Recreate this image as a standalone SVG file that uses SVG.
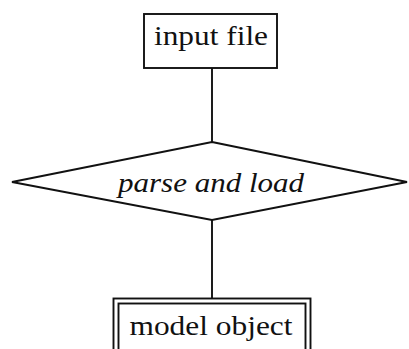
<svg xmlns="http://www.w3.org/2000/svg" width="409" height="349" viewBox="0 0 409 349">
  <style>
    .shape { fill: #ffffff; stroke: #111111; stroke-width: 1.9; }
    .edge { stroke: #111111; stroke-width: 1.9; fill: none; }
    .label { font-family: "Liberation Serif", "Times New Roman", serif; font-size: 28px; fill: #111111; text-anchor: middle; }
    .italic { font-style: italic; }
  </style>
  <rect width="409" height="349" fill="#ffffff"/>
  <g id="connectors">
    <line class="edge" x1="212" y1="68" x2="212" y2="142"/>
    <line class="edge" x1="212" y1="220" x2="212" y2="298"/>
  </g>
  <g id="input-file">
    <rect class="shape" x="144" y="14" width="133" height="54"/>
    <text class="label" x="211" y="45" textLength="114" lengthAdjust="spacingAndGlyphs">input file</text>
  </g>
  <g id="parse-and-load">
    <polygon class="shape" points="212,142 407,182 212,220 12,182"/>
    <text class="label italic" x="211" y="192" textLength="186" lengthAdjust="spacingAndGlyphs">parse and load</text>
  </g>
  <g id="model-object">
    <rect class="shape" x="113.5" y="298.5" width="197" height="60"/>
    <rect class="shape" x="118.5" y="303.5" width="187" height="55"/>
    <text class="label" x="211" y="335" textLength="163" lengthAdjust="spacingAndGlyphs">model object</text>
  </g>
</svg>
